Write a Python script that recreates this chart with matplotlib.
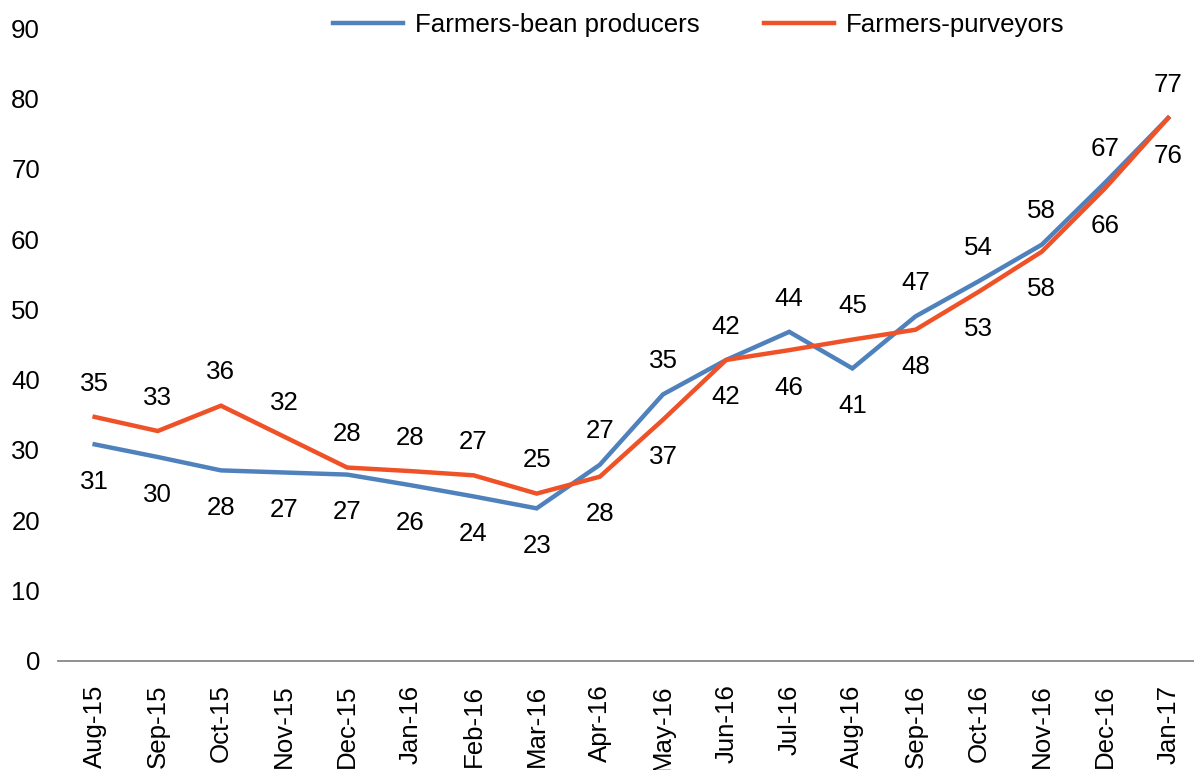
import numpy as np
import matplotlib
matplotlib.use("Agg")
import matplotlib.pyplot as plt

plt.rcParams['font.family'] = ['Liberation Sans', 'DejaVu Sans']

##datos##
months = ["Aug-15", "Sep-15", "Oct-15", "Nov-15", "Dec-15", "Jan-16", "Feb-16",
          "Mar-16", "Apr-16", "May-16", "Jun-16", "Jul-16", "Aug-16", "Sep-16",
          "Oct-16", "Nov-16", "Dec-16", "Jan-17"]

# posicion de las lineas
bean = [30.8, 29.0, 27.1, 26.8, 26.5, 25.0, 23.4, 21.7, 27.9, 37.9, 42.8, 46.8,
        41.6, 49.0, 54.0, 59.2, 68.0, 77.2]
purveyors = [34.7, 32.7, 36.3, 31.9, 27.5, 27.0, 26.4, 23.8, 26.2, 34.3, 42.8,
             44.2, 45.7, 47.1, 52.5, 58.2, 67.2, 77.2]

# etiquetas que muestra el grafico
bean_lbl = [31, 30, 28, 27, 27, 26, 24, 23, 28, 37, 42, 46, 41, 48, 53, 58, 66, 76]
purv_lbl = [35, 33, 36, 32, 28, 28, 27, 25, 27, 35, 42, 44, 45, 47, 54, 58, 67, 77]

blue = "#4F81BD"
red = "#F05228"
fs = 18.6

fig = plt.figure(figsize=(11.94, 7.70), dpi=100)
ax = fig.add_axes([0.0486, 0.1416, 0.9514, 0.822])

x = np.arange(len(months))
ax.plot(x, bean, color=blue, lw=3.2, label="Farmers-bean producers", solid_joinstyle="miter")
ax.plot(x, purveyors, color=red, lw=3.2, label="Farmers-purveyors", solid_joinstyle="miter")

##etiquetas de datos: naranja arriba, azul abajo##
top = np.maximum(bean, purveyors)
bot = np.minimum(bean, purveyors)
for i in range(len(months)):
    ax.annotate(str(purv_lbl[i]), (x[i], top[i]), xytext=(0, 24), textcoords="offset points",
                ha="center", va="center", fontsize=fs, color="black")
    ax.annotate(str(bean_lbl[i]), (x[i], bot[i]), xytext=(0, -27), textcoords="offset points",
                ha="center", va="center", fontsize=fs, color="black")

ax.set_ylim(0, 90)
ax.set_xlim(-0.58, 17.41)
ax.set_yticks(np.arange(0, 91, 10))
ax.set_xticks(x)
ax.set_xticklabels(months, rotation=90)
ax.tick_params(axis="y", length=0, pad=13, labelsize=fs)
ax.tick_params(axis="x", length=0, pad=17, labelsize=fs)

for s in ["top", "right", "left"]:
    ax.spines[s].set_visible(False)
ax.spines["bottom"].set_color("#888888")
ax.spines["bottom"].set_linewidth(1.3)

fig.legend(loc="center", bbox_to_anchor=(0.585, 0.9675), ncol=2, frameon=False,
           fontsize=fs, handlelength=2.72, handletextpad=0.44, columnspacing=2.5)

plt.savefig("out.png", dpi=100)
